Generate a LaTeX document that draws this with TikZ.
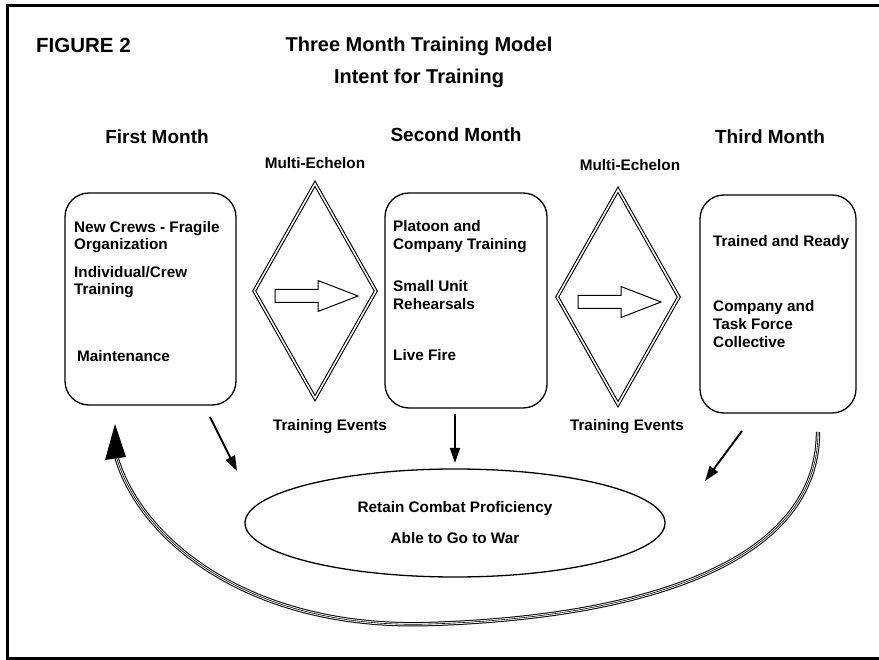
\documentclass[tikz,border=0pt]{standalone}
\usepackage{fontspec}
\setmainfont{Liberation Sans}
\usetikzlibrary{shapes.geometric,arrows.meta,positioning,calc}
\tikzstyle{month box} = [draw=black, line width=1.3pt, rounded corners=24pt]
\tikzstyle{echelon} = [diamond, draw=black, double, line width=1.1pt, double distance=1.5pt, inner sep=0pt, minimum width=122pt, minimum height=215pt]
\tikzstyle{push} = [draw=black, line width=1pt, fill=white]
\tikzstyle{feed} = [line width=1.9pt, -{Triangle[length=15pt,width=10pt]}]
\tikzstyle{loop line} = [double, line width=1pt, double distance=2.4pt]
\tikzstyle{loop core} = [line width=0.6pt]
\tikzstyle{item} = [anchor=west, align=left, inner sep=0pt]

\begin{document}
\begin{tikzpicture}[x=1pt,y=-1pt,font=\bfseries\fontsize{15.3}{18}\selectfont]
  \useasboundingbox (0,0) rectangle (879,660);
  \def\loopcurve{(loopstart) .. controls (818,560) and (650,617) .. (430,624)
    .. controls (250,630) and (140,540) .. (loopend)}

  % Frame
  \draw[line width=3pt] (885,6) -- (7,6) -- (7,658) -- (885,658);

  % Headings
  \node[anchor=west, inner sep=0pt, font=\bfseries\fontsize{20.5}{24}\selectfont] (fig) at (36,45) {FIGURE 2};
  \node[font=\bfseries\fontsize{20}{32}\selectfont, align=center] (title) at (419,62)
    {Three Month Training Model\\Intent for Training};
  \node[font=\bfseries\fontsize{19}{22}\selectfont] (m1) at (157,137) {First Month};
  \node[font=\bfseries\fontsize{19}{22}\selectfont] (m2) at (456,135) {Second Month};
  \node[font=\bfseries\fontsize{19}{22}\selectfont] (m3) at (770,137) {Third Month};

  % Month boxes
  \node[month box, minimum width=171pt, minimum height=212pt] (box1) at (150.5,299) {};
  \node[month box, minimum width=162pt, minimum height=215pt] (box2) at (466,300.5) {};
  \node[month box, minimum width=156pt, minimum height=218pt] (box3) at (778,304) {};

  \node[item] (b1a) at (74,237) {New Crews - Fragile\\[-1pt]Organization};
  \node[item] (b1b) at (74,282) {Individual/Crew\\[-1pt]Training};
  \node[item] (b1c) at (77,356) {Maintenance};

  \node[item] (b2a) at (393,236.5) {Platoon and\\Company Training};
  \node[item] (b2b) at (393,295.5) {Small Unit\\Rehearsals};
  \node[item] (b2c) at (393,355) {Live Fire};

  \node[item] (b3a) at (713,243) {Trained and Ready};
  \node[item] (b3b) at (713,324.5) {Company and\\Task Force\\Collective};

  % Multi-echelon diamonds
  \node[echelon] (d1) at (315,291) {};
  \node[echelon] (d2) at (618,297) {};
  \foreach \d in {d1,d2}
  {
    \begin{scope}[shift={(\d.center)}]
      \draw[push] (-40,-1.5) -- (3,-1.5) -- (3,-10.5) -- (43,5) -- (3,20.5) -- (3,11.5) -- (-40,11.5) -- cycle;
    \end{scope}
  }
  \node (e1) at (315,163) {Multi-Echelon};
  \node (e2) at (630,165) {Multi-Echelon};
  \node (t1) at (330,427) {Training Events};
  \node (t2) at (627,427) {Training Events};

  % Goal
  \node[draw=black, ellipse, line width=1.3pt, minimum width=420pt, minimum height=108pt, align=center] (goal) at (455,523)
    {Retain Combat Proficiency\\[13pt]Able to Go to War};

  \coordinate (f1) at (210,417);
  \coordinate (g1) at (237,471);
  \coordinate (f2) at (455,414);
  \coordinate (g2) at (455,463);
  \coordinate (f3) at (742,431);
  \coordinate (g3) at (705,481);
  \draw[feed] (f1) -- (g1);
  \draw[feed] (f2) -- (g2);
  \draw[feed] (f3) -- (g3);

  % Return loop
  \coordinate (loopstart) at (818,432);
  \coordinate (loopend) at (116,456);
  \coordinate (looptip) at (115,424);
  \draw[loop line] \loopcurve;
  \draw[loop core] \loopcurve;
  \fill (looptip) -- (105,460) -- (126,457) -- cycle;
\end{tikzpicture}
\end{document}
